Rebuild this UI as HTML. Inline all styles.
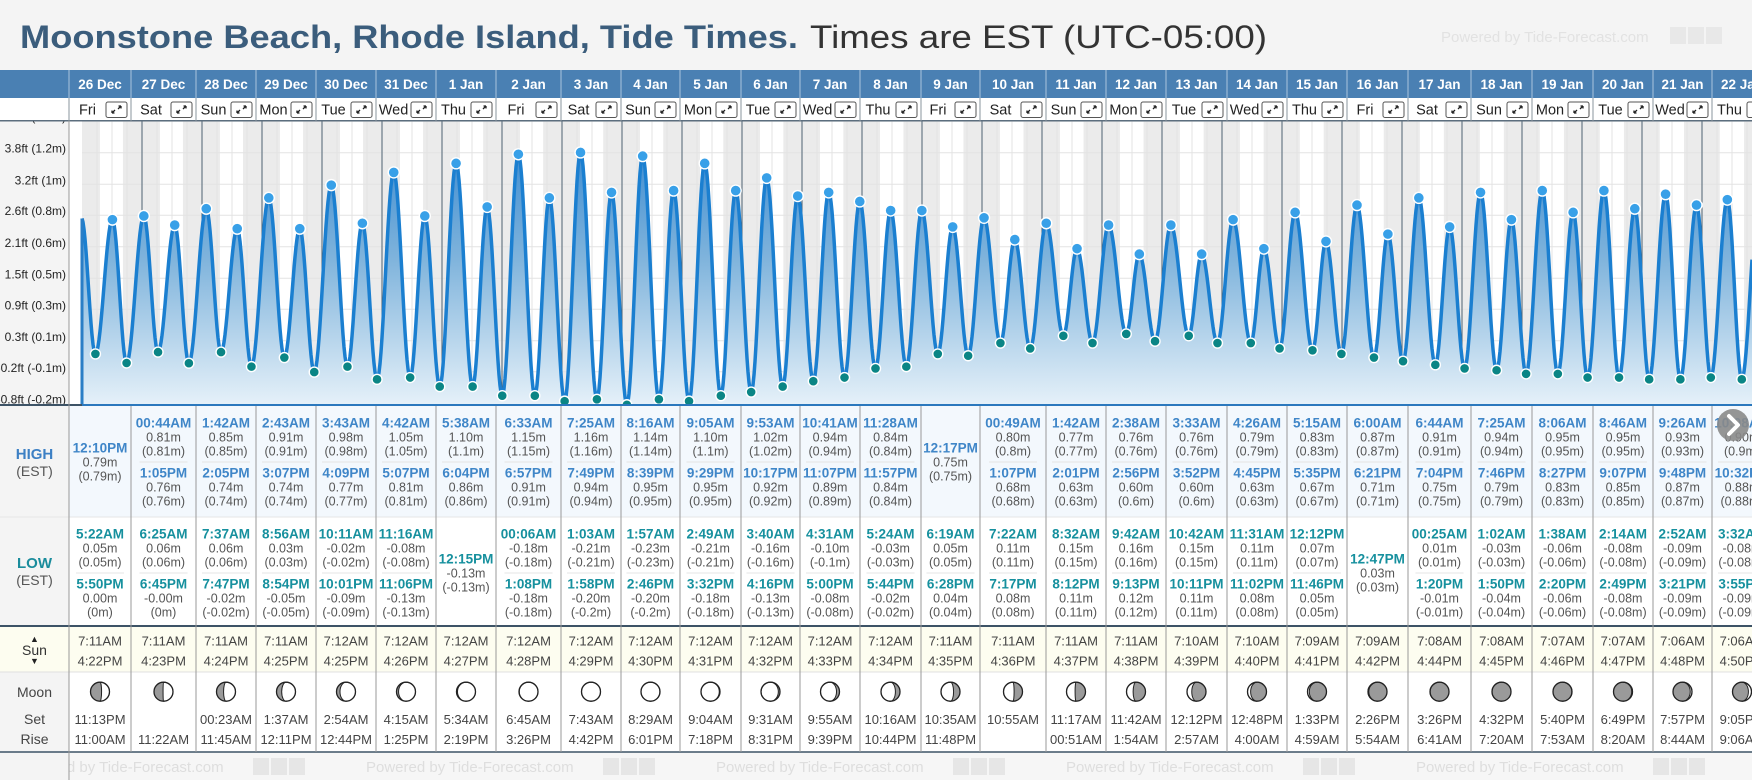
<!DOCTYPE html>
<html><head><meta charset="utf-8"><title>Moonstone Beach Tide Times</title>
<style>
html,body{margin:0;padding:0;background:#f4f4f4;}
svg{display:block;font-family:"Liberation Sans",Arial,sans-serif;}
</style></head>
<body>
<svg id="page" width="1752" height="780" viewBox="0 0 1752 780" xmlns="http://www.w3.org/2000/svg">
<defs>
<linearGradient id="fillGrad" gradientUnits="userSpaceOnUse" x1="0" y1="140" x2="0" y2="406">
<stop offset="0" stop-color="#3a8ad0"/>
<stop offset="0.45" stop-color="#80b4dc"/>
<stop offset="1" stop-color="#e6f1f9"/>
</linearGradient>
<clipPath id="chartClip"><rect x="0" y="121" width="1752" height="285"/></clipPath>
</defs>
<rect x="0" y="0" width="1752" height="780" fill="#f4f4f4"/>
<text x="20" y="48" font-size="32" font-weight="bold" fill="#3b5d7c" textLength="778" lengthAdjust="spacingAndGlyphs">Moonstone Beach, Rhode Island, Tide Times.</text>
<text x="810" y="48" font-size="32" fill="#333" textLength="457" lengthAdjust="spacingAndGlyphs">Times are EST (UTC-05:00)</text>
<text x="1441" y="42" font-size="15" fill="#e2e2e2">Powered by Tide-Forecast.com</text>
<rect x="1670" y="27" width="16" height="17" fill="#e8e8e8"/>
<rect x="1688" y="27" width="16" height="17" fill="#e8e8e8"/>
<rect x="1706" y="27" width="16" height="17" fill="#e8e8e8"/>
<g id="chart"></g>
<g id="table"></g>
</svg>
<script>
const days = ['26 Dec','27 Dec','28 Dec','29 Dec','30 Dec','31 Dec','1 Jan','2 Jan','3 Jan','4 Jan','5 Jan','6 Jan','7 Jan','8 Jan','9 Jan','10 Jan','11 Jan','12 Jan','13 Jan','14 Jan','15 Jan','16 Jan','17 Jan','18 Jan','19 Jan','20 Jan','21 Jan','22 Jan'];
const weekdays = ['Fri','Sat','Sun','Mon','Tue','Wed','Thu','Fri','Sat','Sun','Mon','Tue','Wed','Thu','Fri','Sat','Sun','Mon','Tue','Wed','Thu','Fri','Sat','Sun','Mon','Tue','Wed','Thu'];
const highT = [['12:10PM'],['00:44AM','1:05PM'],['1:42AM','2:05PM'],['2:43AM','3:07PM'],['3:43AM','4:09PM'],['4:42AM','5:07PM'],['5:38AM','6:04PM'],['6:33AM','6:57PM'],['7:25AM','7:49PM'],['8:16AM','8:39PM'],['9:05AM','9:29PM'],['9:53AM','10:17PM'],['10:41AM','11:07PM'],['11:28AM','11:57PM'],['12:17PM'],['00:49AM','1:07PM'],['1:42AM','2:01PM'],['2:38AM','2:56PM'],['3:33AM','3:52PM'],['4:26AM','4:45PM'],['5:15AM','5:35PM'],['6:00AM','6:21PM'],['6:44AM','7:04PM'],['7:25AM','7:46PM'],['8:06AM','8:27PM'],['8:46AM','9:07PM'],['9:26AM','9:48PM'],['10:08AM','10:32PM']];
const highV = [[0.79],[0.81,0.76],[0.85,0.74],[0.91,0.74],[0.98,0.77],[1.05,0.81],[1.10,0.86],[1.15,0.91],[1.16,0.94],[1.14,0.95],[1.10,0.95],[1.02,0.92],[0.94,0.89],[0.84,0.84],[0.75],[0.80,0.68],[0.77,0.63],[0.76,0.60],[0.76,0.60],[0.79,0.63],[0.83,0.67],[0.87,0.71],[0.91,0.75],[0.94,0.79],[0.95,0.83],[0.95,0.85],[0.93,0.87],[0.90,0.88]];
const lowT = [['5:22AM','5:50PM'],['6:25AM','6:45PM'],['7:37AM','7:47PM'],['8:56AM','8:54PM'],['10:11AM','10:01PM'],['11:16AM','11:06PM'],['12:15PM'],['00:06AM','1:08PM'],['1:03AM','1:58PM'],['1:57AM','2:46PM'],['2:49AM','3:32PM'],['3:40AM','4:16PM'],['4:31AM','5:00PM'],['5:24AM','5:44PM'],['6:19AM','6:28PM'],['7:22AM','7:17PM'],['8:32AM','8:12PM'],['9:42AM','9:13PM'],['10:42AM','10:11PM'],['11:31AM','11:02PM'],['12:12PM','11:46PM'],['12:47PM'],['00:25AM','1:20PM'],['1:02AM','1:50PM'],['1:38AM','2:20PM'],['2:14AM','2:49PM'],['2:52AM','3:21PM'],['3:32AM','3:55PM']];
const lowV = [[0.05,0.00],[0.06,-0.001],[0.06,-0.02],[0.03,-0.05],[-0.02,-0.09],[-0.08,-0.13],[-0.13],[-0.18,-0.18],[-0.21,-0.20],[-0.23,-0.20],[-0.21,-0.18],[-0.16,-0.13],[-0.10,-0.08],[-0.03,-0.02],[0.05,0.04],[0.11,0.08],[0.15,0.11],[0.16,0.12],[0.15,0.11],[0.11,0.08],[0.07,0.05],[0.03],[0.01,-0.01],[-0.03,-0.04],[-0.06,-0.06],[-0.08,-0.08],[-0.09,-0.09],[-0.08,-0.09]];
const prevHighT = '11:45PM';
const prevHighV = 0.80;
const sunrise = ['7:11AM','7:11AM','7:11AM','7:11AM','7:12AM','7:12AM','7:12AM','7:12AM','7:12AM','7:12AM','7:12AM','7:12AM','7:12AM','7:12AM','7:11AM','7:11AM','7:11AM','7:11AM','7:10AM','7:10AM','7:09AM','7:09AM','7:08AM','7:08AM','7:07AM','7:07AM','7:06AM','7:06AM'];
const sunset = ['4:22PM','4:23PM','4:24PM','4:25PM','4:25PM','4:26PM','4:27PM','4:28PM','4:29PM','4:30PM','4:31PM','4:32PM','4:33PM','4:34PM','4:35PM','4:36PM','4:37PM','4:38PM','4:39PM','4:40PM','4:41PM','4:42PM','4:44PM','4:45PM','4:46PM','4:47PM','4:48PM','4:50PM'];
const moonSet = ['11:13PM','','00:23AM','1:37AM','2:54AM','4:15AM','5:34AM','6:45AM','7:43AM','8:29AM','9:04AM','9:31AM','9:55AM','10:16AM','10:35AM','10:55AM','11:17AM','11:42AM','12:12PM','12:48PM','1:33PM','2:26PM','3:26PM','4:32PM','5:40PM','6:49PM','7:57PM','9:05PM'];
const moonRise = ['11:00AM','11:22AM','11:45AM','12:11PM','12:44PM','1:25PM','2:19PM','3:26PM','4:42PM','6:01PM','7:18PM','8:31PM','9:39PM','10:44PM','11:48PM','','00:51AM','1:54AM','2:57AM','4:00AM','4:59AM','5:54AM','6:41AM','7:20AM','7:53AM','8:20AM','8:44AM','9:06AM'];
const moonAge = [6.6,7.6,8.6,9.6,10.6,11.6,12.6,13.6,14.6,15.6,16.6,17.6,18.6,19.6,20.6,21.6,22.6,23.6,24.6,25.6,26.6,27.6,28.6,29.4,0.9,1.9,2.9,3.9];
const tickFt = [-0.8,-0.22,0.35,0.93,1.5,2.08,2.66,3.23,3.81,4.39];
const tickLabels = ['-0.8ft (-0.2m)','-0.2ft (-0.1m)','0.3ft (0.1m)','0.9ft (0.3m)','1.5ft (0.5m)','2.1ft (0.6m)','2.6ft (0.8m)','3.2ft (1m)','3.8ft (1.2m)','4.4ft (1.3m)'];

const edges = [69,131,196,256,316,376,436,496,561,621,680,741,800,860,921,980,1046,1106,1166,1227,1287,1347,1408,1471,1532,1593,1653,1712,1772];
const NS = 'http://www.w3.org/2000/svg';
const chart = document.getElementById('chart');
const table = document.getElementById('table');
function mk(tag, attrs, parent){const e=document.createElementNS(NS,tag);for(const k in attrs)e.setAttribute(k,attrs[k]);parent.appendChild(e);return e;}
function txt(s, attrs, parent){const e=mk('text',attrs,parent);e.textContent=s;return e;}
function hrs(s){const m=s.match(/(\d+):(\d+)(AM|PM)/);let h=parseInt(m[1],10)%12;if(m[3]==='PM')h+=12;return h+parseInt(m[2],10)/60;}
const X0=82, DAYW=60, TOP=121, BOT=406;
function xT(t){return X0+t*DAYW;}
function yM(m){return 363-181.5*m;}
function yLabel(ft){return 399.3-(ft+0.8)*54.35;}

// events
const events=[{t:hrs(prevHighT)/24-1,v:prevHighV,hi:true}];
for(let i=0;i<days.length;i++){
  highT[i].forEach((s,j)=>events.push({t:i+hrs(s)/24,v:highV[i][j],hi:true}));
  lowT[i].forEach((s,j)=>events.push({t:i+hrs(s)/24,v:lowV[i][j],hi:false}));
}
events.sort((a,b)=>a.t-b.t);
function level(t){
  for(let k=0;k<events.length-1;k++){
    const a=events[k],b=events[k+1];
    if(t>=a.t&&t<=b.t){const f=(t-a.t)/(b.t-a.t);return a.v+(b.v-a.v)*(1-Math.cos(Math.PI*f))/2;}
  }
  return events[events.length-1].v;
}

// chart background
const cg=mk('g',{'clip-path':'url(#chartClip)'},chart);
const bg=mk('rect',{x:0,y:TOP,width:1752,height:BOT-TOP,fill:'#ffffff'},cg);


const labBg=mk('rect',{x:0,y:TOP,width:69,height:BOT-TOP,fill:'#f4f4f4'},cg);


// night bands
for(let i=-1;i<days.length;i++){
  const start = i<0 ? 0 : i+hrs(sunset[i])/24;
  const end = i+1<days.length ? i+1+hrs(sunrise[i+1])/24 : 29;
  const x1=Math.max(X0,xT(start)), x2=Math.min(1752,xT(end));
  if(x2<=x1)continue;
  const nb=mk('rect',{x:x1,y:TOP,width:x2-x1,height:BOT-TOP,fill:'#ebebeb'},cg);
  
  
}
// grid
tickFt.forEach((ft,i)=>{
  const gl=mk('line',{x1:X0,x2:1752,y1:yLabel(ft)+4,y2:yLabel(ft)+4,stroke:'#e3e3e3','stroke-width':1},cg);
  
  
  const tl=txt(tickLabels[i],{x:66,y:yLabel(ft)+4,'font-size':12,'text-anchor':'end',fill:'#222'},cg);
  
  
});
for(let i=0;i<29;i++){
  [0.25,0.5,0.75].forEach(fr=>{
    const x=xT(i+fr); if(x>1752)return;
    const vl=mk('line',{x1:x,x2:x,y1:TOP,y2:BOT,stroke:'#e3e3e3','stroke-width':1},cg);
    
    
  });
}
// midnight lines
for(let k=1;k<29;k++){
  const x=xT(k); if(x>1752)break;
  const ml=mk('line',{x1:x,x2:x,y1:TOP,y2:yM(level(k)),stroke:'#4e6272','stroke-width':1},cg);
  
  
}
// curve
let d='';
for(let x=X0;x<=1752;x+=1){const t=(x-X0)/DAYW;d+=(x===X0?'M':'L')+x+' '+yM(level(t)).toFixed(2)+' ';}
const area=mk('path',{d:d+'L1752 '+BOT+' L'+X0+' '+BOT+' Z',fill:'url(#fillGrad)'},cg);


const line=mk('path',{d:d,fill:'none',stroke:'#1b7fd0','stroke-width':3.5,'stroke-linejoin':'round'},cg);


const edgeLine=mk('line',{x1:X0,x2:X0,y1:yM(level(0)),y2:BOT,stroke:'#2a7ec6','stroke-width':3},cg);


events.forEach(e=>{
  const x=xT(e.t); if(x<X0||x>1752)return;
  const c=mk('circle',{cx:x,cy:yM(e.v),r:e.hi?5.5:5,fill:e.hi?'#38a0e8':'#0a8585',stroke:'#fff','stroke-width':1.4},cg);
  
  
});
const bl1=mk('rect',{x:0,y:404,width:82,height:3,fill:'#3d5366'},chart);


const bl2=mk('rect',{x:82,y:404,width:1670,height:3,fill:'#2b78bd'},chart);



// header rows
const hb=mk('rect',{x:0,y:70,width:1752,height:28,fill:'#4a80b3'},table);


const dr=mk('rect',{x:0,y:98,width:1752,height:23,fill:'#ffffff'},table);


const drl=mk('rect',{x:0,y:120,width:1752,height:1.5,fill:'#5c6e7e'},table);



// sections backgrounds
const secs=[[406,517,'#f3f8fd','high-section'],[517,626,'#ffffff','low-section'],[627,672,'#fdfdf0','sun-section'],[672,752,'#ffffff','moon-section'],[752,780,'#f6f6f6','footer-section']];
secs.forEach(s=>{
  const r=mk('rect',{x:69,y:s[0],width:1683,height:s[1]-s[0],fill:s[2]},table);
  
  
});
// footer branding
for(let j=0;j<5;j++){
  const fx=16+350*j;
  const ft=txt('Powered by Tide-Forecast.com',{x:fx,y:772,'font-size':15,fill:'#dedede'},table);
  
  
  for(let q=0;q<3;q++){
    const ic=mk('rect',{x:fx+237+q*18,y:758,width:16,height:17,fill:'#e6e6e6'},table);
    
    
  }
}
const lc=mk('rect',{x:0,y:406,width:69,height:374,fill:'#f4f4f4'},table);


const slc=mk('rect',{x:0,y:627,width:69,height:45,fill:'#fdfdf0'},table);


// horizontal rules
[[517,'#e6e6e6',1],[626,'#3d5366',2],[672,'#e0e0e0',1],[752,'#3d5366',1.5]].forEach(h=>{
  const r=mk('rect',{x:0,y:h[0]-h[2]/2,width:1752,height:h[2],fill:h[1]},table);
  
  
});
const lcb=mk('line',{x1:69,x2:69,y1:121,y2:780,stroke:'#999','stroke-width':1},table);



// row labels
function lab(s,y,size,weight,color,name){const t=txt(s,{x:34.5,y:y,'font-size':size,'font-weight':weight,fill:color,'text-anchor':'middle'},table);}
lab('HIGH',459,15,'bold','#3d80c4','high-label');
lab('(EST)',476,14,'normal','#555','high-tz-label');
lab('LOW',568,15,'bold','#1a8c9c','low-label');
lab('(EST)',585,14,'normal','#555','low-tz-label');
lab('▲',642,9,'normal','#222','sunrise-arrow');
lab('Sun',655,14,'normal','#333','sun-label');
lab('▼',664,9,'normal','#222','sunset-arrow');
lab('Moon',697,14,'normal','#444','moon-label');
lab('Set',724,14,'normal','#444','moonset-label');
lab('Rise',744,14,'normal','#444','moonrise-label');

function fmtV(v){return v.toFixed(2)+'m';}
function fmtP(v){return '('+String(parseFloat(v.toFixed(2)))+'m)';}
function tideCell(cx,top,times,vals,color,kind){
  const offs = times.length===1 ? [56] : [31,81];
  times.forEach((s,j)=>{
    const c=top+offs[j];
    const a=txt(s,{x:cx,y:c-14+4.5,'font-size':13.5,'font-weight':'bold',fill:color,'text-anchor':'middle'},table);
    
    
    const b=txt(fmtV(vals[j]),{x:cx,y:c+4.5,'font-size':12.5,fill:'#555','text-anchor':'middle'},table);
    
    
    const p=txt(fmtP(vals[j]),{x:cx,y:c+14+4.5,'font-size':12.5,fill:'#555','text-anchor':'middle'},table);
    
    
  });
  if(times.length===2){
    const sp=mk('line',{x1:cx-24,x2:cx+24,y1:top+56,y2:top+56,stroke:'#e4e4e4','stroke-width':1},table);
    
    
  }
}
function moonIcon(cx,cy,age){
  const r=9.5, p=age/29.53, k=(1-Math.cos(2*Math.PI*p))/2;
  const g=mk('g',{},table);
  
  
  mk('circle',{cx:cx,cy:cy,r:r,fill:'#9a9a9a'},g);
  const rx=Math.abs(r*Math.cos(2*Math.PI*p));
  let dd;
  if(p<0.5){
    dd=`M${cx} ${cy-r} A${r} ${r} 0 0 1 ${cx} ${cy+r} A${rx} ${r} 0 0 ${k<0.5?0:1} ${cx} ${cy-r} Z`;
  } else {
    dd=`M${cx} ${cy-r} A${r} ${r} 0 0 0 ${cx} ${cy+r} A${rx} ${r} 0 0 ${k<0.5?1:0} ${cx} ${cy-r} Z`;
  }
  mk('path',{d:dd,fill:'#ffffff',stroke:'#222','stroke-width':1},g);
  mk('circle',{cx:cx,cy:cy,r:r,fill:'none',stroke:'#222','stroke-width':1.3},g);
}

for(let i=0;i<days.length;i++){
  const x1=edges[i], x2=edges[i+1], cx=(x1+x2)/2;
  if(x1>1752)break;
  const dt=txt(days[i],{x:cx,y:89,'font-size':13.5,'font-weight':'bold',fill:'#ffffff','text-anchor':'middle'},table);
  
  
  const bx=x2-25;
  const wd=txt(weekdays[i],{x:(x1+bx)/2,y:114.5,'font-size':14.5,fill:'#222','text-anchor':'middle'},table);
  
  
  const eb=mk('g',{},table);
  
  
  mk('rect',{x:bx,y:102,width:21,height:15.5,rx:2,fill:'#fff',stroke:'#555','stroke-width':1},eb);
  mk('path',{d:`M${bx+6} ${113} L${bx+9} ${110} M${bx+6} ${113} h2.5 M${bx+6} ${113} v-2.5 M${bx+15} ${106} L${bx+12} ${109} M${bx+15} ${106} h-2.5 M${bx+15} ${106} v2.5`,stroke:'#222','stroke-width':1.3,fill:'none'},eb);
  // separators
  const hs=mk('line',{x1:x1,x2:x1,y1:70,y2:98,stroke:'#a9c3dc','stroke-width':1},table);
  
  
  const ds=mk('line',{x1:x1,x2:x1,y1:98,y2:121,stroke:'#8a949c','stroke-width':1},table);
  
  
  const ts=mk('line',{x1:x1,x2:x1,y1:406,y2:752,stroke:'#999','stroke-width':1},table);
  
  
  tideCell(cx,406,highT[i],highV[i],'#3f86c8','high-tide');
  tideCell(cx,517,lowT[i],lowV[i],'#16909e','low-tide');
  const sr=txt(sunrise[i],{x:cx,y:645.5,'font-size':13,fill:'#444','text-anchor':'middle'},table);
  
  
  const ss=txt(sunset[i],{x:cx,y:665.5,'font-size':13,fill:'#444','text-anchor':'middle'},table);
  
  
  moonIcon(cx,691.7,moonAge[i]);
  const ms=txt(moonSet[i],{x:cx,y:724,'font-size':13,fill:'#444','text-anchor':'middle'},table);
  
  
  const mr=txt(moonRise[i],{x:cx,y:744,'font-size':13,fill:'#444','text-anchor':'middle'},table);
  
  
}
// next button
const nb=mk('g',{},table);


mk('circle',{cx:1733,cy:425,r:16,fill:'#8a8a8a','fill-opacity':0.9},nb);
mk('path',{d:'M1729 416 L1738 425 L1729 434',stroke:'#fff','stroke-width':4,fill:'none','stroke-linecap':'round','stroke-linejoin':'round'},nb);
</script>
</body></html>
